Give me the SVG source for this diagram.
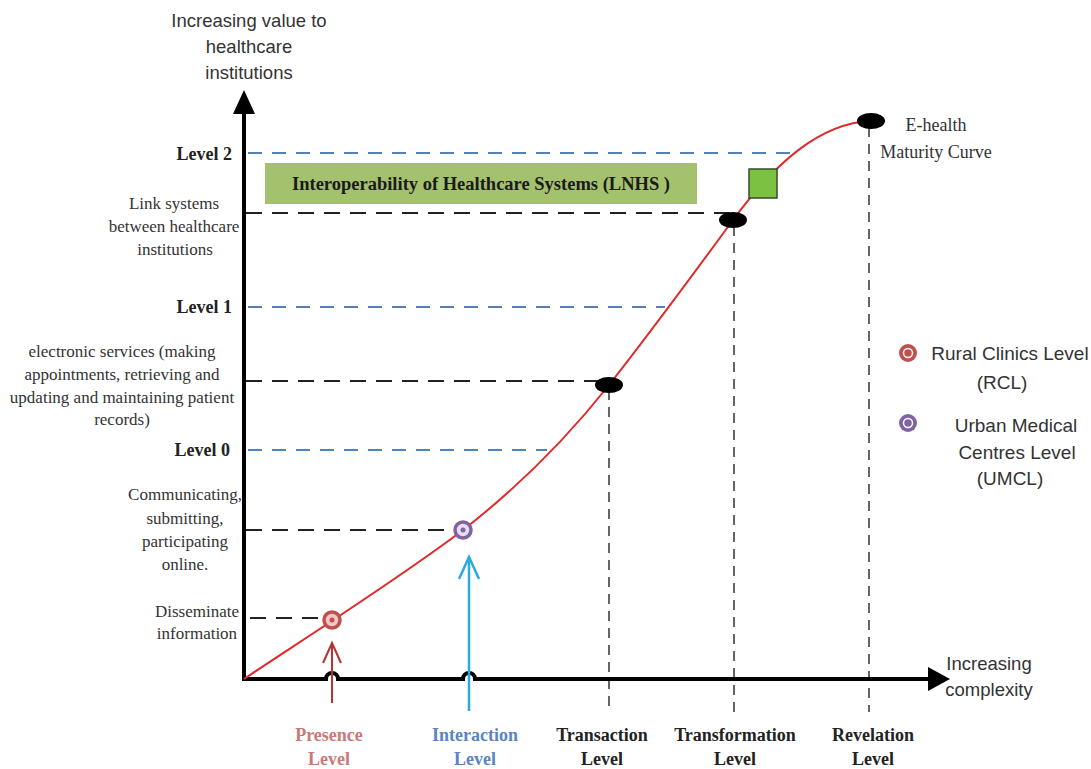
<svg xmlns="http://www.w3.org/2000/svg" width="1091" height="769" viewBox="0 0 1091 769">
<style>
.serif{font-family:"Liberation Serif","Times New Roman",serif;fill:#333}
.sans{font-family:"Liberation Sans",Arial,sans-serif;fill:#333}
.lvl{font-family:"Liberation Serif","Times New Roman",serif;font-weight:bold;font-size:18px;fill:#222}
.bot{font-family:"Liberation Serif","Times New Roman",serif;font-weight:bold;font-size:18px;fill:#222;text-anchor:middle}
.bd{stroke:#4f81bd;stroke-width:2;stroke-dasharray:14 10;fill:none}
.kd{stroke:#222;stroke-width:2;stroke-dasharray:16 10;fill:none}
.vd{stroke:#333;stroke-width:1.5;stroke-dasharray:10 7;fill:none}
.dot{fill:#000}
</style>
<rect width="1091" height="769" fill="#fff"/>
<g id="connectors">
<line class="bd" x1="248" y1="153" x2="795" y2="153"/>
<line class="kd" x1="246" y1="213" x2="733" y2="213"/>
<line class="bd" x1="248" y1="307" x2="665" y2="307"/>
<line class="kd" x1="246" y1="381" x2="603" y2="381"/>
<line class="bd" x1="248" y1="450" x2="547" y2="450"/>
<line class="kd" x1="246" y1="530" x2="458" y2="530"/>
<line class="kd" x1="250" y1="618" x2="328" y2="618"/>
<line class="vd" x1="609" y1="390" x2="609" y2="712"/>
<line class="vd" x1="734" y1="226" x2="734" y2="712"/>
<line class="vd" x1="869" y1="127" x2="869" y2="712"/>
<line x1="244" y1="112" x2="244" y2="681" stroke="#000" stroke-width="4"/>
<polygon points="244,90 233,114 255,114" fill="#000"/>
<path d="M242,679 H326 A6,6 0 0 1 338,679 H463 A6,6 0 0 1 475,679 H930" stroke="#000" stroke-width="4" fill="none"/>
<polygon points="950,679 928,667 928,691" fill="#000"/>
<path d="M244,679 C290,648 400,578 463,530 C530,478 575,428 609,385 C650,333 700,265 733,220 C775,163 820,123 871,121" stroke="#e02a2a" stroke-width="2" fill="none"/>
<line x1="332" y1="643" x2="332" y2="703" stroke="#b83232" stroke-width="2"/>
<polyline points="323,663 332,643 341,663" stroke="#b83232" stroke-width="2" fill="none"/>
<line x1="469" y1="557" x2="469" y2="711" stroke="#29abe2" stroke-width="2.5"/>
<polyline points="459,579 469,557 479,579" stroke="#29abe2" stroke-width="2.5" fill="none"/>
</g>
<g id="interop">
<rect x="265" y="163" width="432" height="41" fill="#a4c16e"/>
<text x="481" y="190" font-family="Liberation Serif, Times New Roman, serif" font-weight="bold" font-size="18.5" fill="#1a1a1a" text-anchor="middle">Interoperability of Healthcare Systems (LNHS )</text>
</g>
<g id="green-square"><rect x="749" y="169" width="28" height="29" fill="#7cc242" stroke="#3a4a2a" stroke-width="1.5"/></g>
<g id="point-transaction"><ellipse class="dot" cx="609" cy="385" rx="14" ry="8"/></g>
<g id="point-transformation"><ellipse class="dot" cx="733" cy="220" rx="14" ry="8"/></g>
<g id="point-revelation"><ellipse class="dot" cx="871" cy="121" rx="14" ry="8"/></g>
<g id="marker-rcl">
<circle cx="332" cy="620" r="8" fill="#f0c8c8" stroke="#c0504d" stroke-width="3.5"/>
<circle cx="332" cy="620" r="2.5" fill="#c0504d"/>
</g>
<g id="marker-umcl">
<circle cx="463" cy="530" r="8" fill="#e8dcf0" stroke="#8064a2" stroke-width="3.5"/>
<circle cx="463" cy="530" r="2.5" fill="#8064a2"/>
</g>
<g id="y-title">
<text class="sans" font-size="18.5" text-anchor="middle"><tspan x="249" y="27">Increasing value to</tspan><tspan x="249" y="53">healthcare</tspan><tspan x="249" y="79">institutions</tspan></text>
</g>
<g id="x-title">
<text class="sans" font-size="18.5" text-anchor="middle"><tspan x="989" y="670">Increasing</tspan><tspan x="989" y="696">complexity</tspan></text>
</g>
<g id="levels">
<text class="lvl" x="232" y="160" text-anchor="end">Level 2</text>
<text class="lvl" x="232" y="313" text-anchor="end">Level 1</text>
<text class="lvl" x="230" y="456" text-anchor="end">Level 0</text>
</g>
<g id="left-labels">
<text class="serif" font-size="17" text-anchor="middle"><tspan x="174" y="209">Link systems</tspan><tspan x="174" y="232">between healthcare</tspan><tspan x="175" y="255">institutions</tspan></text>
<text class="serif" font-size="17" text-anchor="middle"><tspan x="122" y="357">electronic services (making</tspan><tspan x="122" y="380">appointments, retrieving and</tspan><tspan x="122" y="403">updating and maintaining patient</tspan><tspan x="122" y="425">records)</tspan></text>
<text class="serif" font-size="17" text-anchor="middle"><tspan x="185" y="500">Communicating,</tspan><tspan x="185" y="524">submitting,</tspan><tspan x="185" y="547">participating</tspan><tspan x="185" y="570">online.</tspan></text>
<text class="serif" font-size="17" text-anchor="middle"><tspan x="197" y="617">Disseminate</tspan><tspan x="197" y="639">information</tspan></text>
</g>
<g id="curve-label">
<text class="serif" font-size="18" text-anchor="middle"><tspan x="936" y="131">E-health</tspan><tspan x="936" y="158">Maturity Curve</tspan></text>
</g>
<g id="bottom-labels">
<text class="bot" style="fill:#c77a7a"><tspan x="329" y="741">Presence</tspan><tspan x="329" y="765">Level</tspan></text>
<text class="bot" style="fill:#5b85c0"><tspan x="475" y="741">Interaction</tspan><tspan x="475" y="765">Level</tspan></text>
<text class="bot"><tspan x="602" y="741">Transaction</tspan><tspan x="602" y="765">Level</tspan></text>
<text class="bot"><tspan x="735" y="741">Transformation</tspan><tspan x="735" y="765">Level</tspan></text>
<text class="bot"><tspan x="873" y="741">Revelation</tspan><tspan x="873" y="765">Level</tspan></text>
</g>
<g id="legend-rcl">
<circle cx="908" cy="353" r="9" fill="#c0504d"/>
<circle cx="908" cy="353" r="4.5" fill="none" stroke="#fff" stroke-width="1.5"/>
<text class="sans" font-size="19" text-anchor="middle"><tspan x="1010" y="360">Rural Clinics Level</tspan><tspan x="1002" y="389">(RCL)</tspan></text>
</g>
<g id="legend-umcl">
<circle cx="908" cy="423" r="9" fill="#8064a2"/>
<circle cx="908" cy="423" r="4.5" fill="none" stroke="#fff" stroke-width="1.5"/>
<text class="sans" font-size="19" text-anchor="middle"><tspan x="1016" y="432">Urban Medical</tspan><tspan x="1017" y="459">Centres Level</tspan><tspan x="1010" y="485">(UMCL)</tspan></text>
</g>
</svg>
